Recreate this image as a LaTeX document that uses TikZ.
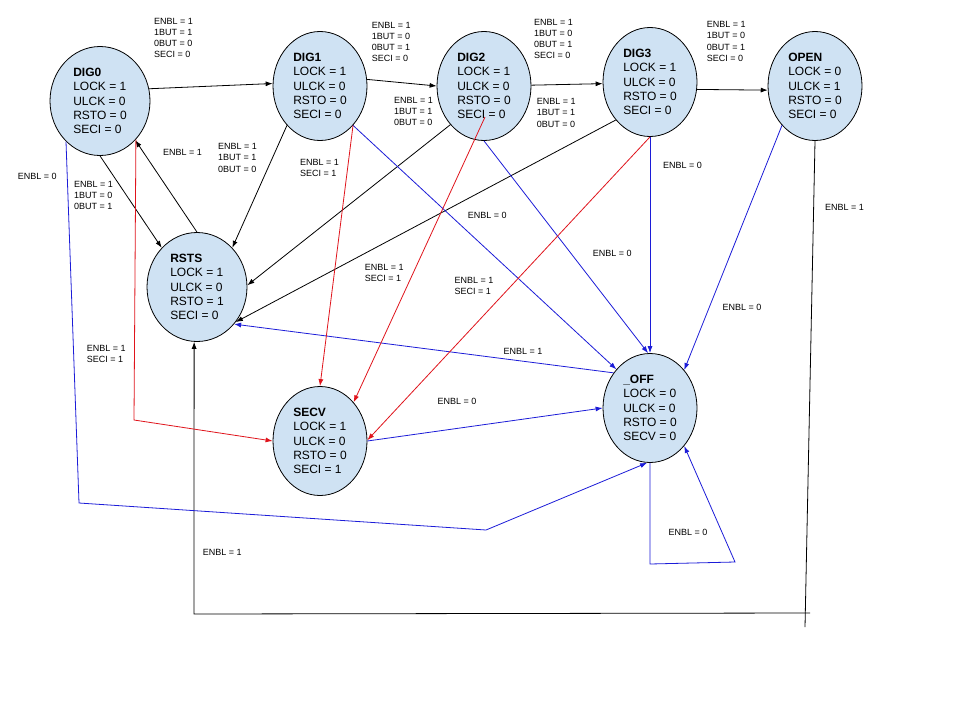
\documentclass[tikz,border=0pt]{standalone}
\usepackage{fontspec}
\setmainfont{Liberation Sans}
\usetikzlibrary{shapes.geometric,arrows.meta}
\definecolor{stfill}{HTML}{CFE2F3}
\definecolor{ablue}{HTML}{1C1CD8}
\definecolor{ared}{HTML}{E0141C}
\begin{document}
\begin{tikzpicture}[x=1pt,y=-1pt,
  state/.style={ellipse, draw=black, fill=stfill, line width=0.8pt, inner sep=0pt,
    minimum width=94pt, minimum height=109pt, align=left,
    font=\fontsize{12}{14.2}\selectfont},
  wide/.style={minimum width=100pt},
  lbl/.style={font=\fontsize{9}{11.1}\selectfont, align=left, inner sep=0pt, anchor=north west},
  tip/.style={-{Latex[length=7pt,width=5pt]}},
  blk/.style={draw=black, line width=0.8pt},
  blu/.style={draw=ablue, line width=0.8pt},
  rd/.style={draw=ared, line width=0.8pt}
]
\useasboundingbox (0,0) rectangle (960,720);
\fill[white] (0,0) rectangle (960,720);

% states
\node[state,wide] (DIG0) at (100,101) {\textbf{DIG0}\\LOCK = 1\\ULCK = 0\\RSTO = 0\\SECI = 0};
\node[state] (DIG1) at (320,86) {\textbf{DIG1}\\LOCK = 1\\ULCK = 0\\RSTO = 0\\SECI = 0};
\node[state] (DIG2) at (484,86) {\textbf{DIG2}\\LOCK = 1\\ULCK = 0\\RSTO = 0\\SECI = 0};
\node[state] (DIG3) at (650,82) {\textbf{DIG3}\\LOCK = 1\\ULCK = 0\\RSTO = 0\\SECI = 0};
\node[state] (OPEN) at (815,86) {\textbf{OPEN}\\LOCK = 0\\ULCK = 1\\RSTO = 0\\SECI = 0};
\node[state,wide] (RSTS) at (197,287) {\textbf{RSTS}\\LOCK = 1\\ULCK = 0\\RSTO = 1\\SECI = 0};
\node[state] (SECV) at (320,441) {\textbf{SECV}\\LOCK = 1\\ULCK = 0\\RSTO = 0\\SECI = 1};
\node[state] (OFF) at (650,408) {\textbf{\_OFF}\\LOCK = 0\\ULCK = 0\\RSTO = 0\\SECV = 0};

% helper coordinates
\coordinate (j1) at (805,627);
\coordinate (j2) at (810,613);
\coordinate (j3) at (194,614);
\coordinate (k1) at (79,503);
\coordinate (k2) at (486,530);
\coordinate (r1) at (650,564);
\coordinate (r2) at (735,562);
\coordinate (s1) at (134,420);
\coordinate (u0) at ([shift={(1,31)}]DIG2.center);

% black transitions
\draw[blk,tip] (DIG0.14.6) -- (DIG1.177);
\draw[blk,tip] (DIG1.8) -- (DIG2.180);
\draw[blk,tip] (DIG2.1) -- (DIG3.182);
\draw[blk,tip] (DIG3.-9.7) -- (OPEN.185);
\draw[blk,tip] (DIG0.-90) -- (RSTS.132);
\draw[blk,tip] (RSTS.90) -- (DIG0.-48);
\draw[blk,tip] (DIG1.230) -- (RSTS.48.8);
\draw[blk,tip] (DIG2.229.8) -- (RSTS.2);
\draw[blk,tip] (DIG3.228) -- (RSTS.-42.6);
\draw[blk] (OPEN.-90) -- (j1);
\draw[blk,tip] (j2) -- (j3) -- (RSTS.-93);

% blue transitions
\draw[blu,tip] (DIG0.230) -- (k1) -- (k2) -- (OFF.-93);
\draw[blu,tip] (DIG1.-50) -- (OFF.131.8);
\draw[blu,tip] (DIG2.-90) -- (OFF.92);
\draw[blu,tip] (DIG3.-90) -- (OFF.90);
\draw[blu,tip] (OPEN.230) -- (OFF.48.9);
\draw[blu,tip] (OFF.136) -- (RSTS.-45);
\draw[blu,tip] (SECV.0) -- (OFF.180);
\draw[blu,tip] (OFF.-90) -- (r1) -- (r2) -- (OFF.-48.8);

% red transitions
\draw[rd,tip] (DIG0.-47) -- (s1) -- (SECV.180);
\draw[rd,tip] (DIG1.-50) -- (SECV.90);
\draw[rd,tip] (u0) -- (SECV.49);
\draw[rd,tip] (DIG3.-90) -- (SECV.1);

% labels
\node[lbl] (L1) at (154,17.8) {ENBL = 1\\1BUT = 1\\0BUT = 0\\SECI = 0};
\node[lbl] (L2) at (371.7,22.1) {ENBL = 1\\1BUT = 0\\0BUT = 1\\SECI = 0};
\node[lbl] (L3) at (534,18.8) {ENBL = 1\\1BUT = 0\\0BUT = 1\\SECI = 0};
\node[lbl] (L4) at (706.7,21.5) {ENBL = 1\\1BUT = 0\\0BUT = 1\\SECI = 0};
\node[lbl] (L5) at (394,96.8) {ENBL = 1\\1BUT = 1\\0BUT = 0};
\node[lbl] (L6) at (536.7,98.5) {ENBL = 1\\1BUT = 1\\0BUT = 0};
\node[lbl] (L7) at (300,158.8) {ENBL = 1\\SECI = 1};
\node[lbl] (L8) at (467.7,211.8) {ENBL = 0};
\node[lbl] (L9) at (163,149.5) {ENBL = 1};
\node[lbl] (L10) at (218,143.5) {ENBL = 1\\1BUT = 1\\0BUT = 0};
\node[lbl] (L11) at (17.7,172.8) {ENBL = 0};
\node[lbl] (L12) at (74,181.1) {ENBL = 1\\1BUT = 0\\0BUT = 1};
\node[lbl] (L13) at (663,162.1) {ENBL = 0};
\node[lbl] (L14) at (825,204.1) {ENBL = 1};
\node[lbl] (L15) at (364.7,264.1) {ENBL = 1\\SECI = 1};
\node[lbl] (L16) at (454.3,277.5) {ENBL = 1\\SECI = 1};
\node[lbl] (L17) at (592.7,250.1) {ENBL = 0};
\node[lbl] (L18) at (503.3,348.1) {ENBL = 1};
\node[lbl] (L19) at (437.3,398.5) {ENBL = 0};
\node[lbl] (L20) at (722.3,304.1) {ENBL = 0};
\node[lbl] (L21) at (668.3,529.5) {ENBL = 0};
\node[lbl] (L22) at (86.7,344.8) {ENBL = 1\\SECI = 1};
\node[lbl] (L23) at (202.7,549.5) {ENBL = 1};
\end{tikzpicture}
\end{document}
